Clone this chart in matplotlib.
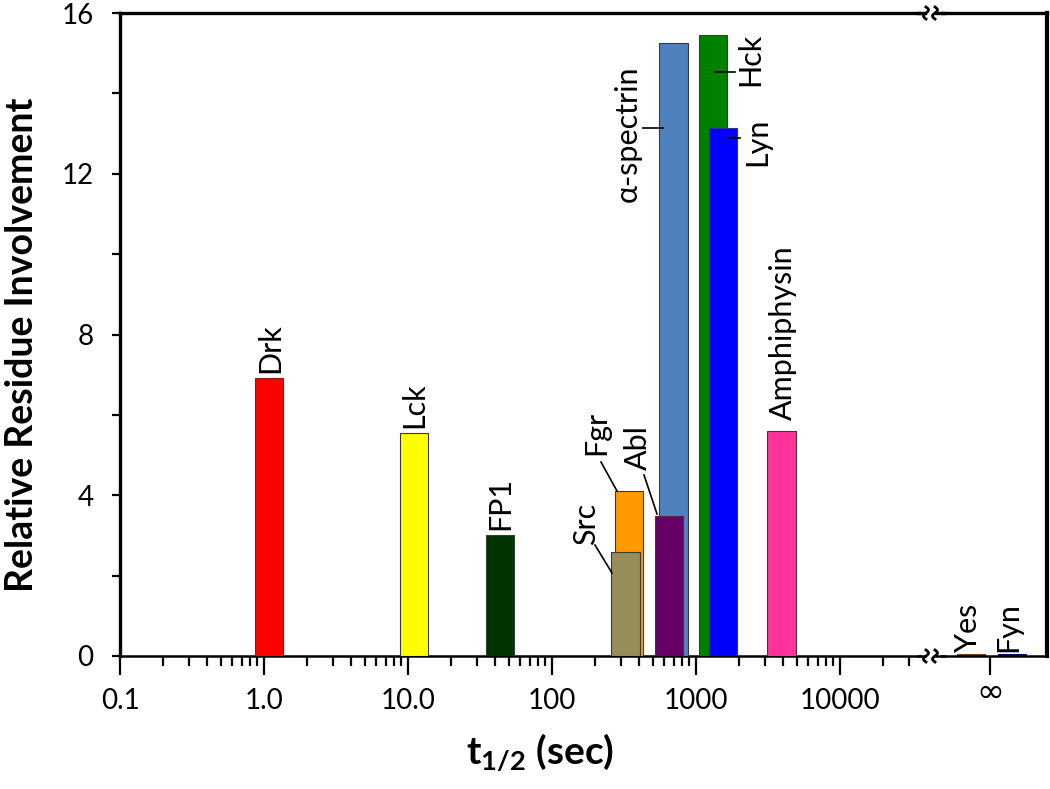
import numpy as np
import matplotlib
matplotlib.use("Agg")
import matplotlib.pyplot as plt
from matplotlib.lines import Line2D

plt.rcParams['font.family'] = ['Lato', 'DejaVu Sans']
plt.rcParams['mathtext.fontset'] = 'custom'
plt.rcParams['mathtext.rm'] = 'Lato'
plt.rcParams['mathtext.bf'] = 'Lato:bold'

# === DATA ===
names = ["Drk", "Lck", "FP1", "Fgr", "Src", "α-spectrin", "Abl", "Hck", "Lyn", "Amphiphysin"]
t_half = [1.09, 11.0, 43.5, 345, 324, 698, 649, 1312, 1552, 3929]    # sec (bar centres)
involvement = [6.92, 5.55, 3.0, 4.1, 2.59, 15.25, 3.48, 15.45, 13.13, 5.6]
colors = ["#FF0000", "#FFFF00", "#003300", "#FF9900", "#978D5A",
          "#4F81BD", "#660066", "#008000", "#0000FF", "#FF3399"]

inf_names = ["Yes", "Fyn"]
inf_involvement = [0.05, 0.05]
inf_colors = ["#7F3F00", "#000099"]

xtick_vals = [0.1, 1, 10, 100, 1000, 10000]
xtick_labels = ["0.1", "1.0", "10.0", "100", "1000", "10000"]

# =========================
W, H = 1050, 789
fig = plt.figure(figsize=(W / 100, H / 100), dpi=100)

def fx(x):
    return x / W

def fy(y):
    return 1 - y / H

top_px, bot_px = 13, 656
ax = fig.add_axes([fx(120), fy(bot_px), fx(920) - fx(120), fy(top_px) - fy(bot_px)])
ax2 = fig.add_axes([fx(942), fy(bot_px), fx(1047) - fx(942), fy(top_px) - fy(bot_px)])

# bar width in decades
bw = 0.195
for n, t, v, c in zip(names, t_half, involvement, colors):
    lc = np.log10(t)
    left = 10 ** (lc - bw / 2)
    ax.bar(left, v, width=10 ** (lc + bw / 2) - left, align='edge',
           color=c, edgecolor='#3a3a3a', linewidth=0.8, zorder=3)

ax.set_xscale('log')
ax.set_xlim(0.1, 10 ** 4.556)
ax.set_ylim(0, 16)
ax.set_yticks([0, 4, 8, 12, 16])
ax.set_yticks([2, 6, 10, 14], minor=True)
ax.set_xticks(xtick_vals)
ax.set_xticklabels(xtick_labels)
ax.tick_params(axis='x', which='major', direction='out', length=14, width=1.6,
               labelsize=20, pad=9)
ax.tick_params(axis='x', which='minor', direction='out', length=7, width=1.6)
ax.tick_params(axis='y', which='both', direction='out', length=6, width=1.6,
               labelsize=20, pad=13)
ax.spines['right'].set_visible(False)
ax.spines['left'].set_linewidth(2.4)
ax.spines['top'].set_linewidth(2.4)
ax.spines['bottom'].set_linewidth(1.8)

# infinity panel
ax2.set_xlim(0, 1)
ax2.set_ylim(0, 16)
ax2.bar([0.143, 0.533], inf_involvement, width=0.267, align='edge',
        color=inf_colors, edgecolor=inf_colors, linewidth=0.8)
ax2.set_yticks([])
ax2.set_xticks([0.457])
ax2.set_xticklabels(["∞"], fontsize=24, family=['DejaVu Sans'])
ax2.tick_params(axis='x', direction='out', length=14, width=1.6, pad=0)
ax2.spines['left'].set_visible(False)
ax2.spines['right'].set_linewidth(3)
ax2.spines['top'].set_linewidth(2.4)
ax2.spines['bottom'].set_linewidth(1.8)

# axis break squiggles
tt = np.linspace(-1, 1, 40)
for yb, lw in [(top_px, 2.4), (bot_px, 1.8)]:
    fig.add_artist(Line2D([fx(918), fx(925)], [fy(yb), fy(yb)], transform=fig.transFigure,
                          color='black', lw=lw))
    fig.add_artist(Line2D([fx(936), fx(944)], [fy(yb), fy(yb)], transform=fig.transFigure,
                          color='black', lw=lw))
    for xc in (926, 935):
        xs = xc - 2.5 * np.sin(np.pi * tt)
        ys = yb + 6 * tt
        fig.add_artist(Line2D(fx(xs), fy(ys), transform=fig.transFigure,
                              color='black', lw=2.0))

# labels
lab = dict(rotation=90, ha='center', va='bottom', fontsize=22)
label_pos = {"Drk": (270, 373), "Lck": (414, 428), "FP1": (500, 530),
             "Src": (586, 545), "Fgr": (596, 455), "Abl": (638, 470),
             "α-spectrin": (628, 202), "Hck": (750, 86), "Lyn": (757, 166),
             "Amphiphysin": (783, 420), "Yes": (968, 652), "Fyn": (1008, 652)}
for n, (x, y) in label_pos.items():
    fig.text(fx(x), fy(y), n, **lab)

leaders = [((595, 545), (612, 573)), ((601, 462), (617, 491)), ((644, 475), (657, 514)),
           ((643, 128), (663, 128)), ((715, 72), (735, 72)), ((729, 138), (740, 138))]
for (x0, y0), (x1, y1) in leaders:
    fig.add_artist(Line2D([fx(x0), fx(x1)], [fy(y0), fy(y1)], transform=fig.transFigure,
                          color='black', lw=1.2, zorder=10))

fig.text(fx(22), fy(345), "Relative Residue Involvement", rotation=90, ha='center',
         va='center', fontsize=27, fontweight='bold')
fig.text(fx(540), fy(752), r"$\mathbf{t_{1/2}}$ (sec)", ha='center', va='center',
         fontsize=28, fontweight='bold')

fig.savefig("out.png", dpi=100)
